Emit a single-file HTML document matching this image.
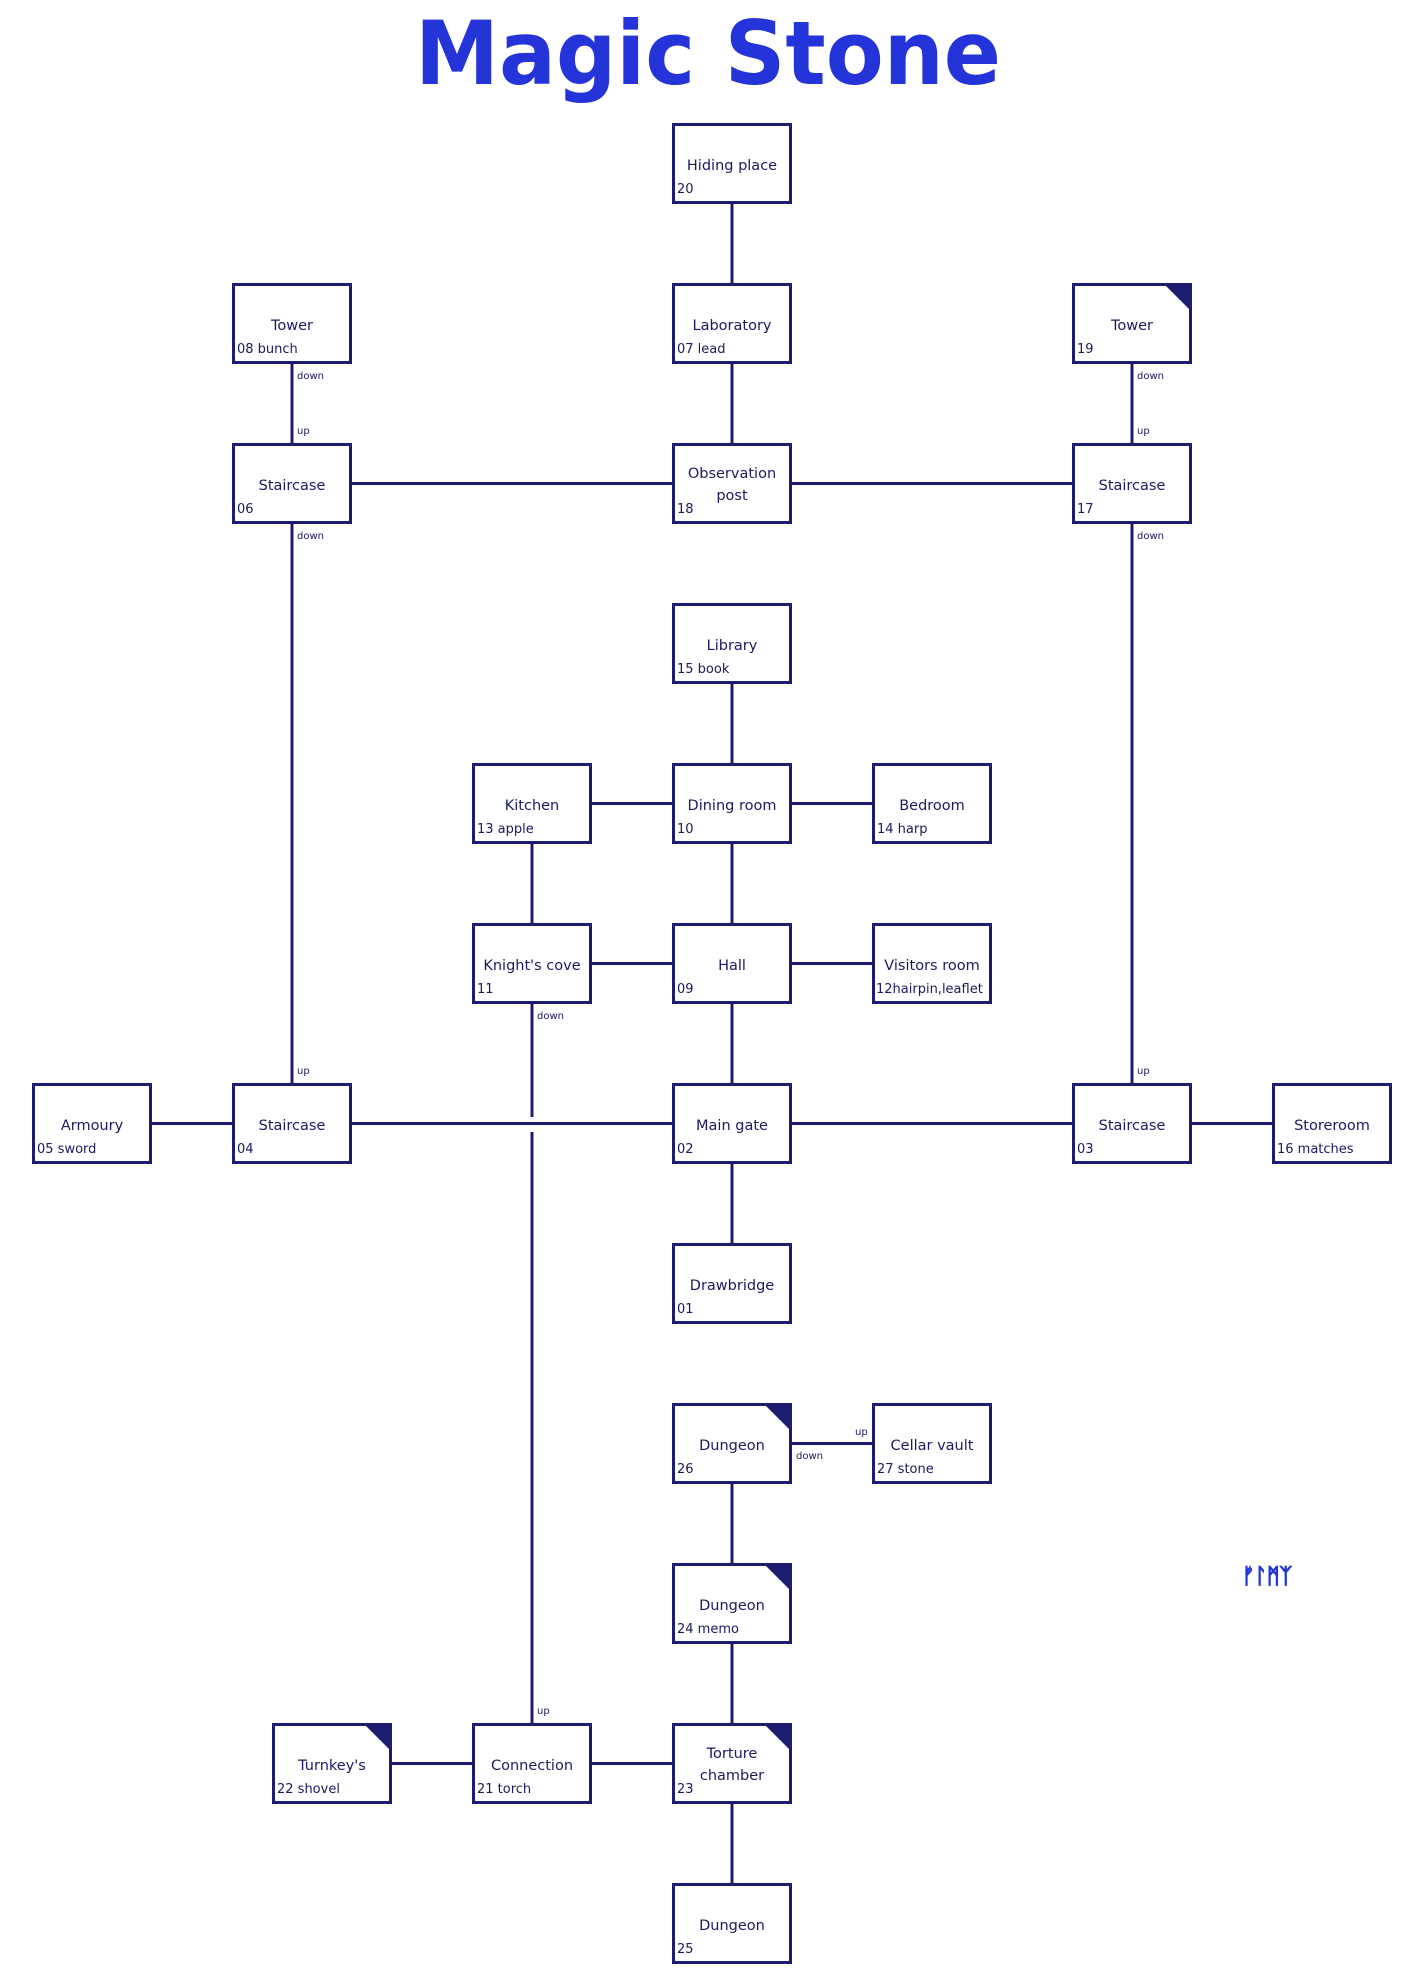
<!DOCTYPE html>
<html><head><meta charset="utf-8"><style>
html,body{margin:0;padding:0;background:#fff;}
svg{display:block;}
.b{fill:#fff;stroke:#1c1c70;stroke-width:3;}
.l{stroke:#1c1c70;stroke-width:3;fill:none;}
.t{fill:#1c1c70;}
.n{font-family:"DejaVu Sans","Liberation Sans",sans-serif;font-size:14.5px;fill:#1a1a60;text-anchor:middle;}
.m{font-family:"DejaVu Sans","Liberation Sans",sans-serif;font-size:13px;fill:#1a1a60;}
.s{font-family:"DejaVu Sans","Liberation Sans",sans-serif;font-size:10px;fill:#1a1a60;}
</style></head><body>
<svg width="1419" height="1975" viewBox="0 0 1419 1975" xmlns="http://www.w3.org/2000/svg">
<text x="708" y="84" text-anchor="middle" textLength="586" lengthAdjust="spacingAndGlyphs" style="font-family:'DejaVu Sans','Liberation Sans',sans-serif;font-weight:bold;font-size:88px;fill:#2434d8;">Magic Stone</text>

<!-- lines -->
<g class="l">
<line x1="732" y1="204" x2="732" y2="283"/>
<line x1="732" y1="364" x2="732" y2="443"/>
<line x1="732" y1="684" x2="732" y2="763"/>
<line x1="732" y1="844" x2="732" y2="923"/>
<line x1="732" y1="1004" x2="732" y2="1083"/>
<line x1="732" y1="1164" x2="732" y2="1243"/>
<line x1="732" y1="1484" x2="732" y2="1563"/>
<line x1="732" y1="1644" x2="732" y2="1723"/>
<line x1="732" y1="1804" x2="732" y2="1883"/>
<line x1="292" y1="364" x2="292" y2="443"/>
<line x1="292" y1="524" x2="292" y2="1083"/>
<line x1="1132" y1="364" x2="1132" y2="443"/>
<line x1="1132" y1="524" x2="1132" y2="1083"/>
<line x1="532" y1="844" x2="532" y2="923"/>
<line x1="532" y1="1004" x2="532" y2="1117"/>
<line x1="532" y1="1132" x2="532" y2="1723"/>
<line x1="352" y1="483.5" x2="672" y2="483.5"/>
<line x1="792" y1="483.5" x2="1072" y2="483.5"/>
<line x1="592" y1="803.5" x2="672" y2="803.5"/>
<line x1="792" y1="803.5" x2="872" y2="803.5"/>
<line x1="592" y1="963.5" x2="672" y2="963.5"/>
<line x1="792" y1="963.5" x2="872" y2="963.5"/>
<line x1="152" y1="1123.5" x2="232" y2="1123.5"/>
<line x1="352" y1="1123.5" x2="672" y2="1123.5"/>
<line x1="792" y1="1123.5" x2="1072" y2="1123.5"/>
<line x1="1192" y1="1123.5" x2="1272" y2="1123.5"/>
<line x1="792" y1="1443.5" x2="872" y2="1443.5"/>
<line x1="392" y1="1763.5" x2="472" y2="1763.5"/>
<line x1="592" y1="1763.5" x2="672" y2="1763.5"/>
</g>

<!-- connector labels -->
<text class="s" x="297" y="379">down</text>
<text class="s" x="297" y="434">up</text>
<text class="s" x="1137" y="379">down</text>
<text class="s" x="1137" y="434">up</text>
<text class="s" x="297" y="539">down</text>
<text class="s" x="297" y="1074">up</text>
<text class="s" x="1137" y="539">down</text>
<text class="s" x="1137" y="1074">up</text>
<text class="s" x="537" y="1019">down</text>
<text class="s" x="537" y="1714">up</text>
<text class="s" x="796" y="1459">down</text>
<text class="s" x="855" y="1435">up</text>

<!-- boxes -->
<rect class="b" x="673.5" y="124.5" width="117" height="78"/>
<text class="n" x="732" y="170">Hiding place</text><text class="m" x="677" y="193">20</text>

<rect class="b" x="233.5" y="284.5" width="117" height="78"/>
<text class="n" x="292" y="330">Tower</text><text class="m" x="237" y="353">08 bunch</text>

<rect class="b" x="673.5" y="284.5" width="117" height="78"/>
<text class="n" x="732" y="330">Laboratory</text><text class="m" x="677" y="353">07 lead</text>

<rect class="b" x="1073.5" y="284.5" width="117" height="78"/>
<polygon class="t" points="1163,283 1192,283 1192,312"/>
<text class="n" x="1132" y="330">Tower</text><text class="m" x="1077" y="353">19</text>

<rect class="b" x="233.5" y="444.5" width="117" height="78"/>
<text class="n" x="292" y="490">Staircase</text><text class="m" x="237" y="513">06</text>

<rect class="b" x="673.5" y="444.5" width="117" height="78"/>
<text class="n" x="732" y="478">Observation</text><text class="n" x="732" y="500">post</text><text class="m" x="677" y="513">18</text>

<rect class="b" x="1073.5" y="444.5" width="117" height="78"/>
<text class="n" x="1132" y="490">Staircase</text><text class="m" x="1077" y="513">17</text>

<rect class="b" x="673.5" y="604.5" width="117" height="78"/>
<text class="n" x="732" y="650">Library</text><text class="m" x="677" y="673">15 book</text>

<rect class="b" x="473.5" y="764.5" width="117" height="78"/>
<text class="n" x="532" y="810">Kitchen</text><text class="m" x="477" y="833">13 apple</text>

<rect class="b" x="673.5" y="764.5" width="117" height="78"/>
<text class="n" x="732" y="810">Dining room</text><text class="m" x="677" y="833">10</text>

<rect class="b" x="873.5" y="764.5" width="117" height="78"/>
<text class="n" x="932" y="810">Bedroom</text><text class="m" x="877" y="833">14 harp</text>

<rect class="b" x="473.5" y="924.5" width="117" height="78"/>
<text class="n" x="532" y="970">Knight's cove</text><text class="m" x="477" y="993">11</text>

<rect class="b" x="673.5" y="924.5" width="117" height="78"/>
<text class="n" x="732" y="970">Hall</text><text class="m" x="677" y="993">09</text>

<rect class="b" x="873.5" y="924.5" width="117" height="78"/>
<text class="n" x="932" y="970">Visitors room</text><text class="m" x="876" y="993">12hairpin,leaflet</text>

<rect class="b" x="33.5" y="1084.5" width="117" height="78"/>
<text class="n" x="92" y="1130">Armoury</text><text class="m" x="37" y="1153">05 sword</text>

<rect class="b" x="233.5" y="1084.5" width="117" height="78"/>
<text class="n" x="292" y="1130">Staircase</text><text class="m" x="237" y="1153">04</text>

<rect class="b" x="673.5" y="1084.5" width="117" height="78"/>
<text class="n" x="732" y="1130">Main gate</text><text class="m" x="677" y="1153">02</text>

<rect class="b" x="1073.5" y="1084.5" width="117" height="78"/>
<text class="n" x="1132" y="1130">Staircase</text><text class="m" x="1077" y="1153">03</text>

<rect class="b" x="1273.5" y="1084.5" width="117" height="78"/>
<text class="n" x="1332" y="1130">Storeroom</text><text class="m" x="1277" y="1153">16 matches</text>

<rect class="b" x="673.5" y="1244.5" width="117" height="78"/>
<text class="n" x="732" y="1290">Drawbridge</text><text class="m" x="677" y="1313">01</text>

<rect class="b" x="673.5" y="1404.5" width="117" height="78"/>
<polygon class="t" points="763,1403 792,1403 792,1432"/>
<text class="n" x="732" y="1450">Dungeon</text><text class="m" x="677" y="1473">26</text>

<rect class="b" x="873.5" y="1404.5" width="117" height="78"/>
<text class="n" x="932" y="1450">Cellar vault</text><text class="m" x="877" y="1473">27 stone</text>

<rect class="b" x="673.5" y="1564.5" width="117" height="78"/>
<polygon class="t" points="763,1563 792,1563 792,1592"/>
<text class="n" x="732" y="1610">Dungeon</text><text class="m" x="677" y="1633">24 memo</text>

<rect class="b" x="273.5" y="1724.5" width="117" height="78"/>
<polygon class="t" points="363,1723 392,1723 392,1752"/>
<text class="n" x="332" y="1770">Turnkey's</text><text class="m" x="277" y="1793">22 shovel</text>

<rect class="b" x="473.5" y="1724.5" width="117" height="78"/>
<text class="n" x="532" y="1770">Connection</text><text class="m" x="477" y="1793">21 torch</text>

<rect class="b" x="673.5" y="1724.5" width="117" height="78"/>
<polygon class="t" points="763,1723 792,1723 792,1752"/>
<text class="n" x="732" y="1758">Torture</text><text class="n" x="732" y="1780">chamber</text><text class="m" x="677" y="1793">23</text>

<rect class="b" x="673.5" y="1884.5" width="117" height="78"/>
<text class="n" x="732" y="1930">Dungeon</text><text class="m" x="677" y="1953">25</text>

<text x="1242" y="1583" textLength="50" lengthAdjust="spacingAndGlyphs" style="font-family:'DejaVu Sans',sans-serif;font-weight:bold;font-size:21px;fill:#2434d8;stroke:#2434d8;stroke-width:0.6;">ᚠᛚᛗᛉ</text>
</svg>
</body></html>
